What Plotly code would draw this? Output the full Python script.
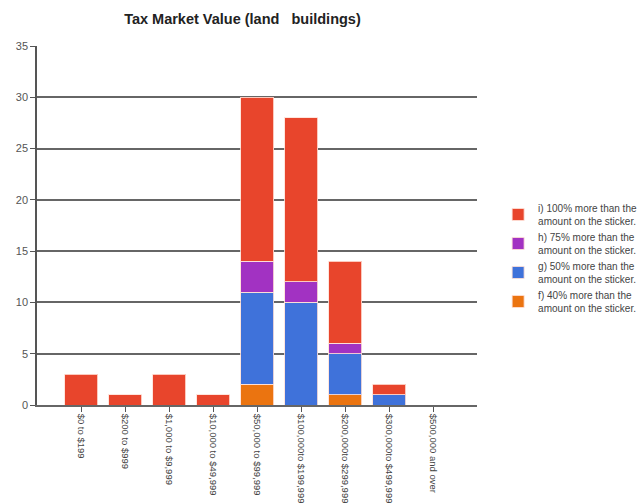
import plotly.graph_objects as go

# Value bands on the x axis
categories = [
    "$0 to $199",
    "$200 to $999",
    "$1,000 to $9,999",
    "$10,000 to $49,999",
    "$50,000 to $99,999",
    "$100,000to $199,999",
    "$200,000to $299,999",
    "$300,000to $499,999",
    "$500,000 and over",
]

# Responses per band, stacked bottom to top
f_40 = [0, 0, 0, 0, 2, 0, 1, 0, 0]
g_50 = [0, 0, 0, 0, 9, 10, 4, 1, 0]
h_75 = [0, 0, 0, 0, 3, 2, 1, 0, 0]
i_100 = [3, 1, 3, 1, 16, 16, 8, 1, 0]

series = [
    ("f) 40% more than the<br>amount on the sticker.", f_40, "#EB7410"),
    ("g) 50% more than the<br>amount on the sticker.", g_50, "#3F72DA"),
    ("h) 75% more than the<br>amount on the sticker.", h_75, "#A232C2"),
    ("i) 100% more than the<br>amount on the sticker.", i_100, "#E8452C"),
]

y_ticks = [0, 5, 10, 15, 20, 25, 30, 35]

fig = go.Figure()
x_idx = list(range(len(categories)))
for name, vals, color in series:
    fig.add_trace(go.Bar(
        x=x_idx,
        y=vals,
        name=name,
        width=0.75,
        marker=dict(color=color, line=dict(color="rgba(255,225,215,0.85)", width=1)),
    ))

fig.update_layout(
    barmode="stack",
    width=638,
    height=503,
    margin=dict(l=37, r=161, t=46, b=98, autoexpand=False),
    paper_bgcolor="white",
    plot_bgcolor="white",
    font=dict(family="Liberation Sans, Arial, sans-serif", color="#444", size=10),
    title=dict(
        text="<b>Tax Market Value (land   buildings)</b>",
        x=0.38, xanchor="center", y=0.963, yanchor="middle",
        font=dict(size=14.5, color="#222"),
    ),
    legend=dict(
        x=1.048, y=0.585, xanchor="left", yanchor="top",
        traceorder="reversed",
        font=dict(size=10, color="#444"),
        itemwidth=30,
        tracegroupgap=0,
        bgcolor="rgba(0,0,0,0)",
    ),
)

fig.update_xaxes(
    range=[-1, 9],
    tickvals=x_idx,
    ticktext=categories,
    tickangle=90,
    ticks="outside",
    ticklen=5,
    tickcolor="#555",
    showline=True,
    linecolor="#666",
    linewidth=1.5,
    showgrid=False,
    automargin=False,
    tickfont=dict(size=9.5, color="#444"),
)
fig.update_yaxes(
    range=[0, 35],
    tickvals=y_ticks,
    ticks="outside",
    ticklen=5,
    tickcolor="#555",
    showline=True,
    linecolor="#555",
    linewidth=1.5,
    showgrid=True,
    gridcolor="#666",
    gridwidth=1.5,
    zeroline=False,
    automargin=False,
    tickfont=dict(size=11, color="#555"),
)

fig.write_html("out.html")
